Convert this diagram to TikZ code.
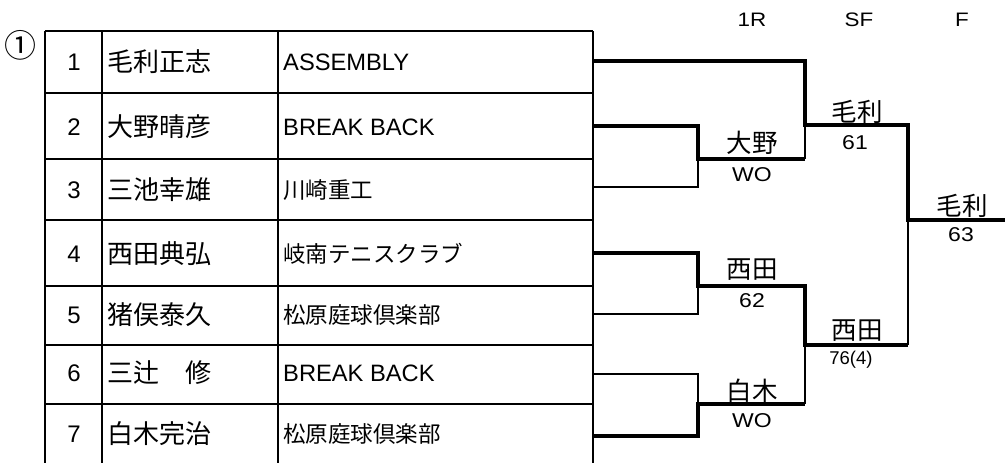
\documentclass[tikz,border=0pt]{standalone}
\usepackage{fontspec}
\setmainfont{Liberation Sans}
\newfontfamily\jp{Noto Sans CJK JP}
\newfontfamily\widefont[FakeStretch=1.15]{Liberation Sans}
\begin{document}
\begin{tikzpicture}[x=1pt,y=-1pt,line join=miter,
  grid/.style={line width=1.2pt},
  win/.style={line width=4.8pt},
  lose/.style={line width=2.6pt},
  num/.style={inner sep=0pt,font=\fontsize{24}{24}\selectfont},
  nm/.style={inner sep=0pt,anchor=west,font=\jp\fontsize{26}{26}\selectfont},
  team/.style={inner sep=0pt,anchor=west,font=\fontsize{23.7}{24}\selectfont},
  teamjp/.style={inner sep=0pt,anchor=west,font=\jp\fontsize{22.5}{23}\selectfont},
  who/.style={inner sep=0pt,font=\jp\fontsize{25.5}{26}\selectfont},
  score/.style={inner sep=0pt,font=\widefont\fontsize{20}{21}\selectfont},
  hdr/.style={inner sep=0pt,font=\widefont\fontsize{19.5}{20}\selectfont}]
\useasboundingbox (0,0) rectangle (1005,463);

% table grid
\foreach \y in {31,93,159,220,286,345,404}
  \draw[grid] (45,\y) -- (593,\y);
\foreach \x in {45,102,278,593}
  \draw[grid] (\x,31) -- (\x,463);

\node[inner sep=0pt,font=\jp\fontsize{32}{32}\selectfont] (circ) at (21,45) {①};

% rows
\node[num] (n1) at (74,62) {1};
\node[nm] (p1) at (107,62) {毛利正志};
\node[team] (t1) at (283,62) {ASSEMBLY};
\node[num] (n2) at (74,127) {2};
\node[nm] (p2) at (107,127) {大野晴彦};
\node[team] (t2) at (283,127) {BREAK BACK};
\node[num] (n3) at (74,190) {3};
\node[nm] (p3) at (107,190) {三池幸雄};
\node[teamjp] (t3) at (283,190) {川崎重工};
\node[num] (n4) at (74,254) {4};
\node[nm] (p4) at (107,254) {西田典弘};
\node[teamjp] (t4) at (283,254) {岐南テニスクラブ};
\node[num] (n5) at (74,315) {5};
\node[nm] (p5) at (107,315) {猪俣泰久};
\node[teamjp] (t5) at (283,315) {松原庭球倶楽部};
\node[num] (n6) at (74,373) {6};
\node[nm] (p6) at (107,373) {三辻\hspace{1em}修};
\node[team] (t6) at (283,373) {BREAK BACK};
\node[num] (n7) at (74,434) {7};
\node[nm] (p7) at (107,434) {白木完治};
\node[teamjp] (t7) at (283,434) {松原庭球倶楽部};

% headers
\node[hdr] (h1) at (752,20) {1R};
\node[hdr] (h2) at (859,20) {SF};
\node[hdr] (h3) at (962,20) {F};

% bracket coordinates
\coordinate (e1) at (593,61);
\coordinate (e2) at (593,126);
\coordinate (e3) at (593,187);
\coordinate (e4) at (593,253);
\coordinate (e5) at (593,314);
\coordinate (e6) at (593,374);
\coordinate (e7) at (593,436);
\coordinate (m1) at (698,159);
\coordinate (m2) at (698,286);
\coordinate (m3) at (698,404);
\coordinate (s1) at (805,125);
\coordinate (s2) at (805,345);
\coordinate (f) at (908,220);
\coordinate (fe) at (1005,220);

% losers (thin)
\draw[lose] (e3) -| (m1);
\draw[lose] (m1 -| s1) -- (s1);
\draw[lose] (e5) -| (m2);
\draw[lose] (e6) -| (m3);
\draw[lose] (m3 -| s2) -- (s2);
\draw[lose] (s2 -| f) -- (f);

% winners (thick)
\draw[win] (e1) -| (s1) -- (s1 -| f) -- (f) -- (fe);
\draw[win] (e2) -| (m1) -- (m1 -| s1);
\draw[win] (e4) -| (m2) -- (m2 -| s2) -- (s2) -- (s2 -| f);
\draw[win] (e7) -| (m3) -- (m3 -| s2);

% labels
\node[who] (w1) at (752,143) {大野};
\node[score] (r1) at (752,175) {WO};
\node[who] (w2) at (752,270) {西田};
\node[score] (r2) at (752,301) {62};
\node[who] (w3) at (752,391) {白木};
\node[score] (r3) at (752,421) {WO};
\node[who] (w4) at (857,112) {毛利};
\node[score] (r4) at (855,143) {61};
\node[who] (w5) at (857,331) {西田};
\node[score,font=\fontsize{18.5}{19}\selectfont] (r5) at (851,360) {76(4)};
\node[who] (w6) at (962,206) {毛利};
\node[score] (r6) at (961,235) {63};
\end{tikzpicture}
\end{document}
